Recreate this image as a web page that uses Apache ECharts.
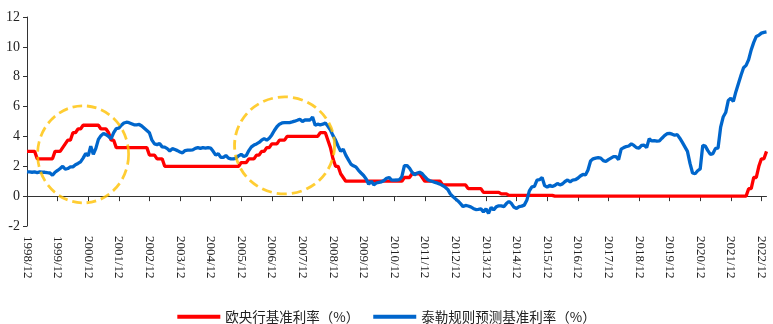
<!DOCTYPE html>
<html>
<head>
<meta charset="utf-8">
<script src="https://cdn.jsdelivr.net/npm/echarts@6/dist/echarts.min.js"></script>
<style>
html,body{margin:0;padding:0;background:#fff;}
#chart{width:773px;height:324px;}
</style>
</head>
<body>
<div id="chart"></div>
<script>
// Monthly categories 1998/12 .. 2023/02
const categories = ['1998/12'];
for (let y = 1999; y <= 2023; y++) {
  for (let m = 1; m <= 12; m++) {
    if (y === 2023 && m > 2) break;
    categories.push(y + '/' + m);
  }
}

const yTicks = [-2, 0, 2, 4, 6, 8, 10, 12];

const seriesNames = ['欧央行基准利率（%）', '泰勒规则预测基准利率（%）'];

// ECB main refinancing rate (%)
const ecbRate = [
  3.0, // 1998/12
  3.0,3.0,3.0,2.5,2.5,2.5,2.5,2.5,2.5,2.5,3.0,3.0, // 1999
  3.0,3.25,3.5,3.75,3.75,4.25,4.25,4.5,4.5,4.75,4.75,4.75, // 2000
  4.75,4.75,4.75,4.75,4.5,4.5,4.5,4.25,3.75,3.75,3.25,3.25, // 2001
  3.25,3.25,3.25,3.25,3.25,3.25,3.25,3.25,3.25,3.25,3.25,2.75, // 2002
  2.75,2.75,2.5,2.5,2.5,2.0,2.0,2.0,2.0,2.0,2.0,2.0, // 2003
  2.0,2.0,2.0,2.0,2.0,2.0,2.0,2.0,2.0,2.0,2.0,2.0, // 2004
  2.0,2.0,2.0,2.0,2.0,2.0,2.0,2.0,2.0,2.0,2.0,2.25, // 2005
  2.25,2.25,2.5,2.5,2.5,2.75,2.75,3.0,3.0,3.25,3.25,3.5, // 2006
  3.5,3.5,3.75,3.75,3.75,4.0,4.0,4.0,4.0,4.0,4.0,4.0, // 2007
  4.0,4.0,4.0,4.0,4.0,4.0,4.25,4.25,4.25,3.75,3.25,2.5, // 2008
  2.0,2.0,1.5,1.25,1.0,1.0,1.0,1.0,1.0,1.0,1.0,1.0, // 2009
  1.0,1.0,1.0,1.0,1.0,1.0,1.0,1.0,1.0,1.0,1.0,1.0, // 2010
  1.0,1.0,1.0,1.25,1.25,1.25,1.5,1.5,1.5,1.5,1.25,1.0, // 2011
  1.0,1.0,1.0,1.0,1.0,1.0,0.75,0.75,0.75,0.75,0.75,0.75, // 2012
  0.75,0.75,0.75,0.75,0.5,0.5,0.5,0.5,0.5,0.5,0.25,0.25, // 2013
  0.25,0.25,0.25,0.25,0.25,0.15,0.15,0.15,0.05,0.05,0.05,0.05, // 2014
  0.05,0.05,0.05,0.05,0.05,0.05,0.05,0.05,0.05,0.05,0.05,0.05, // 2015
  0.05,0.05,0,0,0,0,0,0,0,0,0,0, // 2016
  0,0,0,0,0,0,0,0,0,0,0,0, // 2017
  0,0,0,0,0,0,0,0,0,0,0,0, // 2018
  0,0,0,0,0,0,0,0,0,0,0,0, // 2019
  0,0,0,0,0,0,0,0,0,0,0,0, // 2020
  0,0,0,0,0,0,0,0,0,0,0,0, // 2021
  0,0,0,0,0,0,0.5,0.5,1.25,1.25,2.0,2.5, // 2022
  2.5,3.0 // 2023
];

// Taylor-rule implied rate (%)
const taylorRate = [
  1.63, // 1998/12
  1.62,1.60,1.62,1.58,1.62,1.60,1.60,1.57,1.55,1.40,1.60,1.72, // 1999
  1.85,2.00,1.80,1.85,1.96,1.96,2.10,2.19,2.30,2.55,2.85,2.70, // 2000
  3.35,2.80,3.20,3.80,4.05,4.19,4.12,4.00,3.85,4.25,4.53,4.55, // 2001
  4.75,4.90,4.95,4.92,4.85,4.78,4.78,4.80,4.70,4.55,4.40,4.25, // 2002
  3.75,3.50,3.45,3.52,3.30,3.28,3.18,3.02,3.18,3.12,3.05,2.96, // 2003
  2.90,3.05,3.08,3.08,3.10,3.20,3.25,3.20,3.25,3.22,3.25,3.22, // 2004
  3.00,2.75,2.85,2.60,2.60,2.72,2.55,2.50,2.50,2.55,2.70,2.80, // 2005
  2.65,2.72,3.05,3.30,3.42,3.50,3.60,3.75,3.85,3.75,3.88,4.10, // 2006
  4.40,4.65,4.82,4.90,4.93,4.93,4.93,4.97,5.02,5.08,5.15,5.00, // 2007
  5.10,5.10,5.10,5.30,4.75,4.82,4.78,4.82,4.90,4.68,4.42,4.05, // 2008
  3.75,3.35,3.00,3.15,2.75,2.45,2.15,2.03,1.95,1.73,1.55,1.38, // 2009
  1.15,0.80,1.00,0.76,0.88,0.92,0.96,1.05,1.20,1.25,1.07,1.07, // 2010
  1.08,1.10,1.30,2.05,2.05,1.88,1.60,1.42,1.55,1.60,1.50,1.30, // 2011
  1.12,1.03,0.98,0.92,0.87,0.80,0.70,0.60,0.45,0.15,-0.03,-0.18, // 2012
  -0.32,-0.50,-0.70,-0.62,-0.66,-0.72,-0.82,-0.90,-0.88,-0.85,-1.05,-0.85, // 2013
  -1.15,-0.75,-0.92,-0.72,-0.65,-0.65,-0.70,-0.50,-0.35,-0.50,-0.75,-0.82, // 2014
  -0.70,-0.67,-0.60,-0.28,0.35,0.62,0.65,1.07,1.10,1.25,0.70,0.60, // 2015
  0.72,0.65,0.72,0.85,0.75,0.82,0.98,1.08,0.96,1.08,1.10,1.20, // 2016
  1.35,1.45,1.42,1.75,2.35,2.50,2.55,2.58,2.55,2.38,2.32,2.45, // 2017
  2.55,2.65,2.65,2.45,3.15,3.25,3.32,3.36,3.50,3.40,3.25,3.22, // 2018
  3.40,3.42,3.25,3.85,3.70,3.72,3.68,3.70,3.88,4.05,4.18,4.20, // 2019
  4.15,4.08,4.12,3.88,3.60,3.30,3.00,2.19,1.55,1.50,1.70,1.82, // 2020
  3.40,3.35,3.05,2.80,2.85,3.20,3.22,4.60,5.30,5.60,6.40,6.55, // 2021
  6.35,7.00,7.55,8.10,8.60,8.76,9.15,9.80,10.30,10.70,10.78,10.92, // 2022
  10.97,11.00 // 2023
];

// Annotation ellipses (centre month, centre value)
const highlightCentres = [['2000/10', 2.8], ['2007/5', 3.4]];

const chart = echarts.init(document.getElementById('chart'), null, {renderer: 'canvas'});
const axisColor = '#333';
const labelFont = 'Liberation Serif, Times New Roman, serif';
const yearTick = (i) => i % 12 === 0;

chart.setOption({
  animation: false,
  backgroundColor: '#fff',
  grid: {left: 27, right: 6.5, top: 17, bottom: 98, containLabel: false},
  legend: {
    data: seriesNames,
    left: 'center',
    top: 305,
    icon: 'rect',
    itemWidth: 43,
    itemHeight: 4,
    itemGap: 14,
    textStyle: {fontFamily: 'Noto Sans CJK SC', fontSize: 13.5, color: '#222'}
  },
  xAxis: [
    {
      type: 'category', data: categories, boundaryGap: false,
      axisLine: {show: true, onZero: true, lineStyle: {color: axisColor, width: 1}},
      axisTick: {show: true, interval: yearTick, length: 5, lineStyle: {color: axisColor}},
      axisLabel: {show: false},
      splitLine: {show: false}
    },
    {
      type: 'category', data: categories, boundaryGap: false, position: 'bottom',
      axisLine: {show: false, onZero: false},
      axisTick: {show: false},
      axisLabel: {show: true, interval: yearTick, rotate: -90, margin: 10,
        fontFamily: labelFont, fontSize: 13, color: '#222'},
      splitLine: {show: false}
    }
  ],
  yAxis: {
    type: 'value', min: yTicks[0], max: yTicks[yTicks.length - 1], interval: 2,
    axisLine: {show: true, lineStyle: {color: axisColor, width: 1}},
    axisTick: {show: true, length: 4, lineStyle: {color: axisColor}},
    axisLabel: {margin: 7, fontFamily: labelFont, fontSize: 14, color: '#222'},
    splitLine: {show: false}
  },
  series: [
    {
      name: seriesNames[0], type: 'line', data: ecbRate, xAxisIndex: 0,
      showSymbol: false, symbol: 'none', color: '#ff0000',
      lineStyle: {width: 3.3, color: '#ff0000'}, z: 2
    },
    {
      name: seriesNames[1], type: 'line', data: taylorRate, xAxisIndex: 0,
      showSymbol: false, symbol: 'none', color: '#0066cc',
      lineStyle: {width: 3.3, color: '#0066cc'}, z: 3
    },
    {
      name: 'highlight', type: 'scatter', xAxisIndex: 0,
      data: highlightCentres,
      symbol: 'circle',
      symbolSize: function (v, p) { return p.dataIndex === 0 ? [91, 97] : [100, 97]; },
      itemStyle: {color: 'rgba(0,0,0,0)', borderColor: '#ffc000', borderWidth: 2.8, borderType: [10, 5]},
      emphasis: {disabled: true},
      silent: true, z: 4
    }
  ]
});
</script>
</body>
</html>
